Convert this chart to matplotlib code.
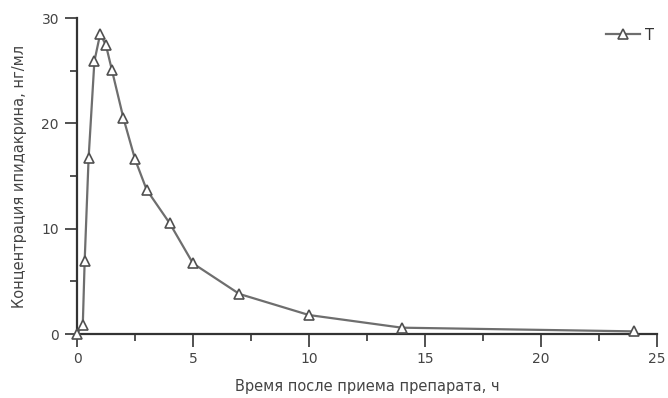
import matplotlib
matplotlib.use("Agg")
import matplotlib.pyplot as plt
from matplotlib.ticker import MultipleLocator

# Data
time_h = [0, 0.25, 0.33, 0.5, 0.75, 1.0, 1.25, 1.5, 2.0, 2.5, 3.0, 4.0, 5.0, 7.0, 10.0, 14.0, 24.0]
conc = [0.0, 0.9, 6.9, 16.7, 25.9, 28.5, 27.4, 25.1, 20.5, 16.6, 13.7, 10.5, 6.7, 3.8, 1.8, 0.6, 0.25]
series_label = "T"
xlabel = "Время после приема препарата, ч"
ylabel = "Концентрация ипидакрина, нг/мл"

plt.rcParams['font.family'] = ['DejaVu Sans']
fig = plt.figure(figsize=(6.68, 3.98), dpi=100)
ax = fig.add_axes([77/668, 1-334/398, (657-77)/668, (334-18)/398])

ax.plot(time_h, conc, color='#6e6e6e', lw=1.6, marker='^', ms=6.5,
        mfc='white', mec='#505050', mew=1.2, label=series_label, clip_on=False, zorder=3)

ax.set_xlim(0, 25)
ax.set_ylim(0, 30)
ax.xaxis.set_major_locator(MultipleLocator(5))
ax.xaxis.set_minor_locator(MultipleLocator(2.5))
ax.yaxis.set_major_locator(MultipleLocator(10))
ax.yaxis.set_minor_locator(MultipleLocator(5))

for s in ['top', 'right']:
    ax.spines[s].set_visible(False)
for s in ['left', 'bottom']:
    ax.spines[s].set_color('#333333')
    ax.spines[s].set_linewidth(1.6)

ax.tick_params(which='major', length=9, width=1.2, color='#333333', pad=4,
               labelsize=10, labelcolor='#444444')
ax.tick_params(which='minor', length=5, width=1.2, color='#333333')

ax.set_xlabel(xlabel, fontsize=10.5, color='#444444', labelpad=9)
ax.set_ylabel(ylabel, fontsize=10.5, color='#444444', labelpad=10)

fig.legend(loc='center left', bbox_to_anchor=(606/668, 1-35/398), frameon=False,
           handlelength=2.3, fontsize=10.5, labelcolor='#333333', borderpad=0,
           borderaxespad=0, handletextpad=0.4)

fig.savefig("out.png", dpi=100)
